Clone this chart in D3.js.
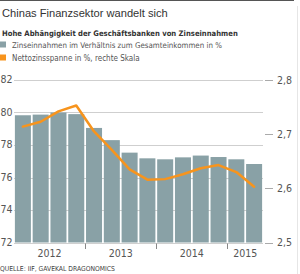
<!DOCTYPE html>
<html>
<head>
<meta charset="utf-8">
<script src="https://cdnjs.cloudflare.com/ajax/libs/d3/7.8.5/d3.min.js"></script>
<style>
  body { margin: 0; background: #fff; }
  text { font-family: "Liberation Sans Narrow", "DejaVu Sans Condensed", "Liberation Sans", sans-serif; }
</style>
</head>
<body>
<div id="chart"></div>
<script>
// ===========================================
// Data (quarterly, 2012 Q1 - 2015 Q2)
var quarters = ["2012Q1","2012Q2","2012Q3","2012Q4","2013Q1","2013Q2","2013Q3","2013Q4",
                "2014Q1","2014Q2","2014Q3","2014Q4","2015Q1","2015Q2"];
var interestShare = [79.83, 79.87, 80.0, 79.9, 79.05, 78.3, 77.53, 77.18, 77.12, 77.24, 77.35, 77.26, 77.12, 76.83];
var netMargin = [2.714, 2.723, 2.742, 2.753, 2.705, 2.671, 2.635, 2.616, 2.617, 2.626, 2.637, 2.643, 2.63, 2.603];
var years = ["2012", "2013", "2014", "2015"];
var leftTicks = [72, 74, 76, 78, 80, 82];
var rightTicks = [2.5, 2.6, 2.7, 2.8];

// ===========================================
// SVG setup
var svgWidth = 300;
var svgHeight = 274;
var plot = {left: 14, right: 263, top: 80, bottom: 242.5};

var barColor = "#89a1a6";
var lineColor = "#f7941d";

var svg = d3.select("#chart")
    .append("svg")
    .attr("width", svgWidth)
    .attr("height", svgHeight);

// scale a text's font size so it spans the wanted width
function fitWidth(sel, target) {
    var node = sel.node();
    var size = parseFloat(sel.attr("font-size"));
    var w = node.getComputedTextLength();
    if (w > 0) sel.attr("font-size", (size * target / w).toFixed(2) + "px");
    return sel;
}

// frame lines
svg.append("line")
    .attr("x1", 0).attr("x2", 294).attr("y1", 0.5).attr("y2", 0.5)
    .attr("stroke", "#555").attr("stroke-width", 1);
svg.append("line")
    .attr("x1", 297.5).attr("x2", 297.5).attr("y1", 6).attr("y2", 274)
    .attr("stroke", "#e6e6e6").attr("stroke-width", 1);

// titles
fitWidth(svg.append("text")
    .attr("x", 2).attr("y", 17)
    .attr("font-size", "12px")
    .attr("fill", "#333")
    .style("font-family", "'Liberation Sans', sans-serif")
    .text("Chinas Finanzsektor wandelt sich"), 166);

fitWidth(svg.append("text")
    .attr("x", 2).attr("y", 35.5)
    .attr("font-size", "10px")
    .attr("font-weight", "bold")
    .attr("fill", "#333")
    .text("Hohe Abhängigkeit der Geschäftsbanken von Zinseinnahmen"), 236);

// legend
var legend = [
    {label: "Zinseinnahmen im Verhältnis zum Gesamteinkommen in %", color: barColor, y: 41.5, len: 210},
    {label: "Nettozinsspanne in %, rechte Skala", color: lineColor, y: 54.5, len: 128}
];
legend.forEach(function(d){
    svg.append("rect")
        .attr("x", 0).attr("y", d.y)
        .attr("width", 6).attr("height", 6)
        .attr("fill", d.color);
    fitWidth(svg.append("text")
        .attr("x", 12).attr("y", d.y + 6)
        .attr("font-size", "10px")
        .attr("fill", "#555")
        .text(d.label), d.len);
});

// ===========================================
// Scales
var xscale = d3.scaleBand()
    .domain(quarters)
    .range([plot.left, plot.right])
    .paddingInner(0.1)
    .paddingOuter(0.05);

var yLeft = d3.scaleLinear().domain([72, 82]).range([plot.bottom, plot.top]);
var yRight = d3.scaleLinear().domain([2.5, 2.8]).range([plot.bottom, plot.top]);

// gridlines
svg.append("g").selectAll("line")
    .data(leftTicks)
    .enter()
    .append("line")
    .attr("x1", plot.left).attr("x2", plot.right)
    .attr("y1", d => Math.round(yLeft(d)) + 0.5)
    .attr("y2", d => Math.round(yLeft(d)) + 0.5)
    .attr("stroke", "#cfcfcf")
    .attr("stroke-width", 1);

// left labels
svg.append("g").selectAll("text")
    .data(leftTicks)
    .enter()
    .append("text")
    .attr("x", 0.5)
    .attr("y", d => yLeft(d) - 0.5)
    .attr("dy", "0.35em")
    .attr("font-size", "10.5px")
    .attr("fill", "#555")
    .text(d => d);

// right ticks and labels
var rightAxis = svg.append("g");
rightAxis.selectAll("line")
    .data(rightTicks)
    .enter()
    .append("line")
    .attr("x1", 265).attr("x2", 273)
    .attr("y1", d => Math.round(yRight(d)) + 0.5)
    .attr("y2", d => Math.round(yRight(d)) + 0.5)
    .attr("stroke", "#aaa");
rightAxis.selectAll("text")
    .data(rightTicks)
    .enter()
    .append("text")
    .attr("x", 277)
    .attr("y", d => yRight(d))
    .attr("dy", "0.35em")
    .attr("font-size", "10.5px")
    .attr("fill", "#555")
    .text(d => d3.format(".1f")(d).replace(".", ","));

// bars
svg.append("g").selectAll("rect")
    .data(interestShare)
    .enter()
    .append("rect")
    .attr("x", (d, i) => xscale(quarters[i]))
    .attr("y", d => yLeft(d))
    .attr("width", xscale.bandwidth())
    .attr("height", d => yLeft(72) - yLeft(d))
    .attr("fill", barColor);

// x axis baseline and year ticks
svg.append("line")
    .attr("x1", plot.left).attr("x2", plot.right)
    .attr("y1", 243.5).attr("y2", 243.5)
    .attr("stroke", "#cfcfcf");

var gap = xscale.step() - xscale.bandwidth();
svg.append("g").selectAll("line")
    .data(years.slice(1))
    .enter()
    .append("line")
    .attr("x1", d => Math.round(xscale(d + "Q1") - gap / 2) + 0.5)
    .attr("x2", d => Math.round(xscale(d + "Q1") - gap / 2) + 0.5)
    .attr("y1", 243.5).attr("y2", 249)
    .attr("stroke", "#888");

svg.append("g").selectAll("text")
    .data(years)
    .enter()
    .append("text")
    .attr("x", function(d){
        var qs = quarters.filter(q => q.indexOf(d) === 0);
        var x0 = xscale(qs[0]);
        var x1 = xscale(qs[qs.length - 1]) + xscale.bandwidth();
        return (x0 + x1) / 2;
    })
    .attr("y", 257)
    .attr("text-anchor", "middle")
    .attr("font-size", "10.5px")
    .attr("fill", "#555")
    .text(d => d);

// orange line
var line = d3.line()
    .x((d, i) => xscale(quarters[i]) + xscale.bandwidth() / 2)
    .y(d => yRight(d));

svg.append("path")
    .datum(netMargin)
    .attr("d", line)
    .attr("fill", "none")
    .attr("stroke", lineColor)
    .attr("stroke-width", 2.5)
    .attr("stroke-linejoin", "round")
    .attr("stroke-linecap", "round");

// source
fitWidth(svg.append("text")
    .attr("x", 0).attr("y", 270.5)
    .attr("font-size", "8px")
    .attr("fill", "#444")
    .text("QUELLE: IIF, GAVEKAL DRAGONOMICS"), 115);
</script>
</body>
</html>
